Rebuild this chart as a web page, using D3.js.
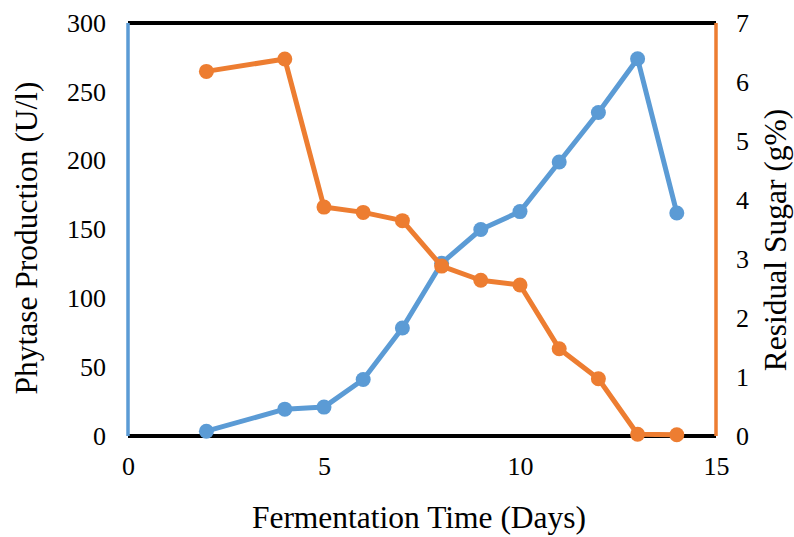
<!DOCTYPE html>
<html>
<head>
<meta charset="utf-8">
<script src="https://cdn.jsdelivr.net/npm/d3@7"></script>
<style>
  html, body { margin: 0; padding: 0; background: #fff; }
  svg { display: block; }
  svg text { font-family: "Liberation Serif", "Times New Roman", serif; fill: #000; }
</style>
</head>
<body>
<svg id="chart" width="794" height="537"></svg>
<script>
// Fermentation days and measured series
const days = [2, 4, 5, 6, 7, 8, 9, 10, 11, 12, 13, 14];
const phytase = [3.5, 19.5, 21, 41, 78.5, 125.5, 150, 163, 199, 235, 274, 162];
const sugar = [6.18, 6.39, 3.88, 3.79, 3.65, 2.88, 2.64, 2.56, 1.48, 0.97, 0.03, 0.02];

const xTicks = [0, 5, 10, 15];
const leftTicks = [0, 50, 100, 150, 200, 250, 300];
const rightTicks = [0, 1, 2, 3, 4, 5, 6, 7];

const blue = "#5B9BD5";
const orange = "#ED7D31";

const m = { left: 128, right: 716, top: 23, bottom: 436 };
const svg = d3.select("#chart");

const x = d3.scaleLinear().domain([0, 15]).range([m.left, m.right]);
const yL = d3.scaleLinear().domain([0, 300]).range([m.bottom, m.top]);
const yR = d3.scaleLinear().domain([0, 7]).range([m.bottom, m.top]);

// Axes (tick labels only; frame lines drawn separately)
const fmt = d3.format("d");
const gx = svg.append("g").attr("transform", `translate(0,${m.bottom})`)
  .call(d3.axisBottom(x).tickValues(xTicks).tickFormat(fmt).tickSize(0).tickPadding(21));
const gl = svg.append("g").attr("transform", `translate(${m.left},0)`)
  .call(d3.axisLeft(yL).tickValues(leftTicks).tickFormat(fmt).tickSize(0).tickPadding(22));
const gr = svg.append("g").attr("transform", `translate(${m.right},0)`)
  .call(d3.axisRight(yR).tickValues(rightTicks).tickFormat(fmt).tickSize(0).tickPadding(20));
[gx, gl, gr].forEach(g => {
  g.select(".domain").remove();
  g.attr("font-size", null).attr("font-family", null);
  g.selectAll("text").style("font-size", "26px");
});

// Frame: black top/bottom, coloured left/right axis lines
svg.append("line").attr("x1", m.left).attr("x2", m.right).attr("y1", m.top).attr("y2", m.top)
  .attr("stroke", "#000").attr("stroke-width", 4);
svg.append("line").attr("x1", m.left).attr("x2", m.right).attr("y1", m.bottom).attr("y2", m.bottom)
  .attr("stroke", "#000").attr("stroke-width", 4);
svg.append("line").attr("x1", m.left).attr("x2", m.left).attr("y1", m.top).attr("y2", m.bottom)
  .attr("stroke", blue).attr("stroke-width", 3.5);
svg.append("line").attr("x1", m.right).attr("x2", m.right).attr("y1", m.top).attr("y2", m.bottom)
  .attr("stroke", orange).attr("stroke-width", 3.5);

// Series
function drawSeries(vals, y, color) {
  const pts = days.map((d, i) => [x(d), y(vals[i])]);
  svg.append("path").attr("d", d3.line()(pts))
    .attr("fill", "none").attr("stroke", color).attr("stroke-width", 5)
    .attr("stroke-linejoin", "round");
  svg.append("g").selectAll("circle").data(pts).join("circle")
    .attr("cx", d => d[0]).attr("cy", d => d[1]).attr("r", 7.5).attr("fill", color);
}
drawSeries(phytase, yL, blue);
drawSeries(sugar, yR, orange);

// Axis titles
svg.append("text").attr("x", 419).attr("y", 528)
  .attr("text-anchor", "middle").style("font-size", "31.5px").text("Fermentation Time (Days)");
svg.append("text").attr("transform", `translate(37,238) rotate(-90)`)
  .attr("text-anchor", "middle").style("font-size", "31.5px").text("Phytase Production (U/l)");
svg.append("text").attr("transform", `translate(786,240) rotate(-90)`)
  .attr("text-anchor", "middle").style("font-size", "31.5px").text("Residual Sugar (g%)");
</script>
</body>
</html>
